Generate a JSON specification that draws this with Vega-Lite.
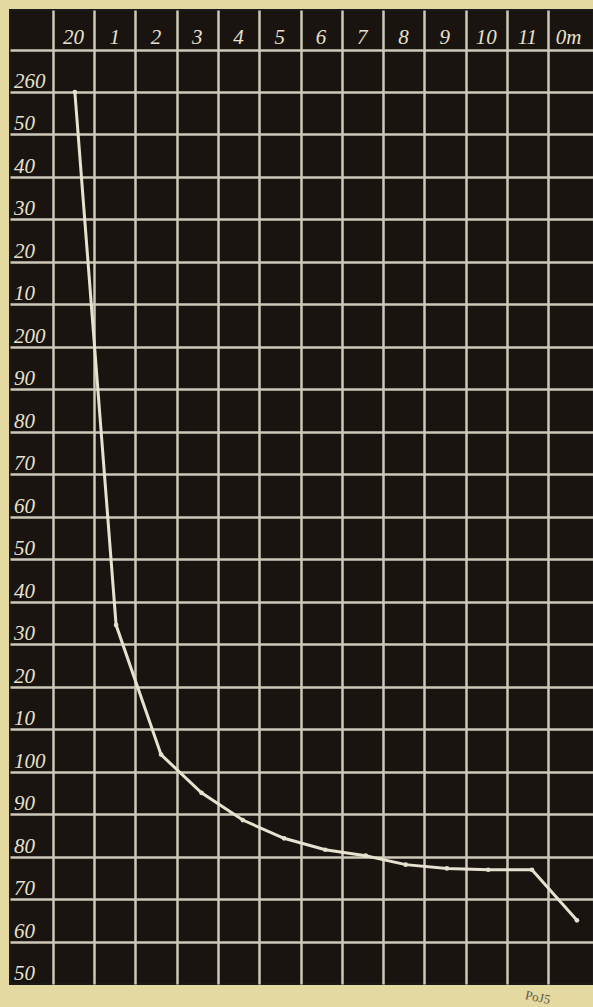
{
  "$schema": "https://vega.github.io/schema/vega-lite/v6.json",
  "width": 583,
  "height": 974,
  "autosize": {"type": "none"},
  "padding": {"left": 10, "top": 10, "right": 0, "bottom": 23},
  "background": "#e4d9a0",
  "config": {"view": {"fill": "#1a1410", "stroke": "#1a1a1a", "strokeWidth": 2}},
  "datasets": {
    "curve": [
      {"t": 0.53, "v": 260},
      {"t": 1.53, "v": 134.5},
      {"t": 2.62, "v": 104},
      {"t": 3.6, "v": 95},
      {"t": 4.6, "v": 88.6},
      {"t": 5.6, "v": 84.3},
      {"t": 6.6, "v": 81.6},
      {"t": 7.58, "v": 80.2},
      {"t": 8.55, "v": 78.1},
      {"t": 9.55, "v": 77.2},
      {"t": 10.55, "v": 76.9},
      {"t": 11.61, "v": 76.9},
      {"t": 12.7, "v": 65}
    ],
    "hours": [
      {"col": 0, "label": "20"},
      {"col": 1, "label": "1"},
      {"col": 2, "label": "2"},
      {"col": 3, "label": "3"},
      {"col": 4, "label": "4"},
      {"col": 5, "label": "5"},
      {"col": 6, "label": "6"},
      {"col": 7, "label": "7"},
      {"col": 8, "label": "8"},
      {"col": 9, "label": "9"},
      {"col": 10, "label": "10"},
      {"col": 11, "label": "11"},
      {"col": 12, "label": "0m"}
    ],
    "levels": [
      {"v": 260, "label": "260"},
      {"v": 250, "label": "50"},
      {"v": 240, "label": "40"},
      {"v": 230, "label": "30"},
      {"v": 220, "label": "20"},
      {"v": 210, "label": "10"},
      {"v": 200, "label": "200"},
      {"v": 190, "label": "90"},
      {"v": 180, "label": "80"},
      {"v": 170, "label": "70"},
      {"v": 160, "label": "60"},
      {"v": 150, "label": "50"},
      {"v": 140, "label": "40"},
      {"v": 130, "label": "30"},
      {"v": 120, "label": "20"},
      {"v": 110, "label": "10"},
      {"v": 100, "label": "100"},
      {"v": 90, "label": "90"},
      {"v": 80, "label": "80"},
      {"v": 70, "label": "70"},
      {"v": 60, "label": "60"},
      {"v": 50, "label": "50"}
    ],
    "stamp": [{"t": 11.75, "v": 46.8, "label": "PoJ5"}]
  },
  "layer": [
    {
      "data": {"name": "curve"},
      "mark": {"type": "line", "color": "#e6e2cf", "strokeWidth": 3, "clip": false},
      "encoding": {
        "x": {
          "field": "t", "type": "quantitative",
          "scale": {"domain": [-1.042, 13.09], "nice": false, "zero": false},
          "axis": {"values": [0, 1, 2, 3, 4, 5, 6, 7, 8, 9, 10, 11, 12], "grid": true, "gridColor": "#cdc8b8", "gridWidth": 2.5, "labels": false, "ticks": false, "domain": false, "title": null}
        },
        "y": {
          "field": "v", "type": "quantitative",
          "scale": {"domain": [50, 279.3], "nice": false, "zero": false},
          "axis": {"values": [60, 70, 80, 90, 100, 110, 120, 130, 140, 150, 160, 170, 180, 190, 200, 210, 220, 230, 240, 250, 260, 270], "grid": true, "gridColor": "#cdc8b8", "gridWidth": 2.5, "labels": false, "ticks": false, "domain": false, "title": null}
        }
      }
    },
    {
      "data": {"name": "curve"},
      "mark": {"type": "point", "filled": true, "color": "#e6e2cf", "size": 22, "opacity": 1},
      "encoding": {
        "x": {"field": "t", "type": "quantitative",
          "axis": {"values": [0, 1, 2, 3, 4, 5, 6, 7, 8, 9, 10, 11, 12], "grid": true, "gridColor": "#cdc8b8", "gridWidth": 2.5, "labels": false, "ticks": false, "domain": false, "title": null}},
        "y": {"field": "v", "type": "quantitative",
          "axis": {"values": [60, 70, 80, 90, 100, 110, 120, 130, 140, 150, 160, 170, 180, 190, 200, 210, 220, 230, 240, 250, 260, 270], "grid": true, "gridColor": "#cdc8b8", "gridWidth": 2.5, "labels": false, "ticks": false, "domain": false, "title": null}}
      }
    },
    {
      "data": {"name": "hours"},
      "mark": {"type": "text", "font": "Liberation Serif", "fontStyle": "italic", "fontSize": 21, "color": "#e6e2cf", "align": "center", "baseline": "bottom", "dx": 20.6, "dy": -2},
      "encoding": {
        "x": {"field": "col", "type": "quantitative",
          "axis": {"values": [0, 1, 2, 3, 4, 5, 6, 7, 8, 9, 10, 11, 12], "grid": true, "gridColor": "#cdc8b8", "gridWidth": 2.5, "labels": false, "ticks": false, "domain": false, "title": null}},
        "y": {"datum": 270,
          "axis": {"values": [60, 70, 80, 90, 100, 110, 120, 130, 140, 150, 160, 170, 180, 190, 200, 210, 220, 230, 240, 250, 260, 270], "grid": true, "gridColor": "#cdc8b8", "gridWidth": 2.5, "labels": false, "ticks": false, "domain": false, "title": null}},
        "text": {"field": "label"}
      }
    },
    {
      "data": {"name": "levels"},
      "mark": {"type": "text", "font": "Liberation Serif", "fontStyle": "italic", "fontSize": 21, "color": "#e6e2cf", "align": "left", "baseline": "bottom", "dx": 4, "dy": 0},
      "encoding": {
        "x": {"datum": -1.042,
          "axis": {"values": [0, 1, 2, 3, 4, 5, 6, 7, 8, 9, 10, 11, 12], "grid": true, "gridColor": "#cdc8b8", "gridWidth": 2.5, "labels": false, "ticks": false, "domain": false, "title": null}},
        "y": {"field": "v", "type": "quantitative",
          "axis": {"values": [60, 70, 80, 90, 100, 110, 120, 130, 140, 150, 160, 170, 180, 190, 200, 210, 220, 230, 240, 250, 260, 270], "grid": true, "gridColor": "#cdc8b8", "gridWidth": 2.5, "labels": false, "ticks": false, "domain": false, "title": null}},
        "text": {"field": "label"}
      }
    },
    {
      "data": {"name": "stamp"},
      "mark": {"type": "text", "font": "Liberation Serif", "fontSize": 13, "color": "#5a5648", "angle": 12, "align": "center", "baseline": "middle"},
      "encoding": {
        "x": {"field": "t", "type": "quantitative",
          "axis": {"values": [0, 1, 2, 3, 4, 5, 6, 7, 8, 9, 10, 11, 12], "grid": true, "gridColor": "#cdc8b8", "gridWidth": 2.5, "labels": false, "ticks": false, "domain": false, "title": null}},
        "y": {"field": "v", "type": "quantitative",
          "axis": {"values": [60, 70, 80, 90, 100, 110, 120, 130, 140, 150, 160, 170, 180, 190, 200, 210, 220, 230, 240, 250, 260, 270], "grid": true, "gridColor": "#cdc8b8", "gridWidth": 2.5, "labels": false, "ticks": false, "domain": false, "title": null}},
        "text": {"field": "label"}
      }
    }
  ]
}
